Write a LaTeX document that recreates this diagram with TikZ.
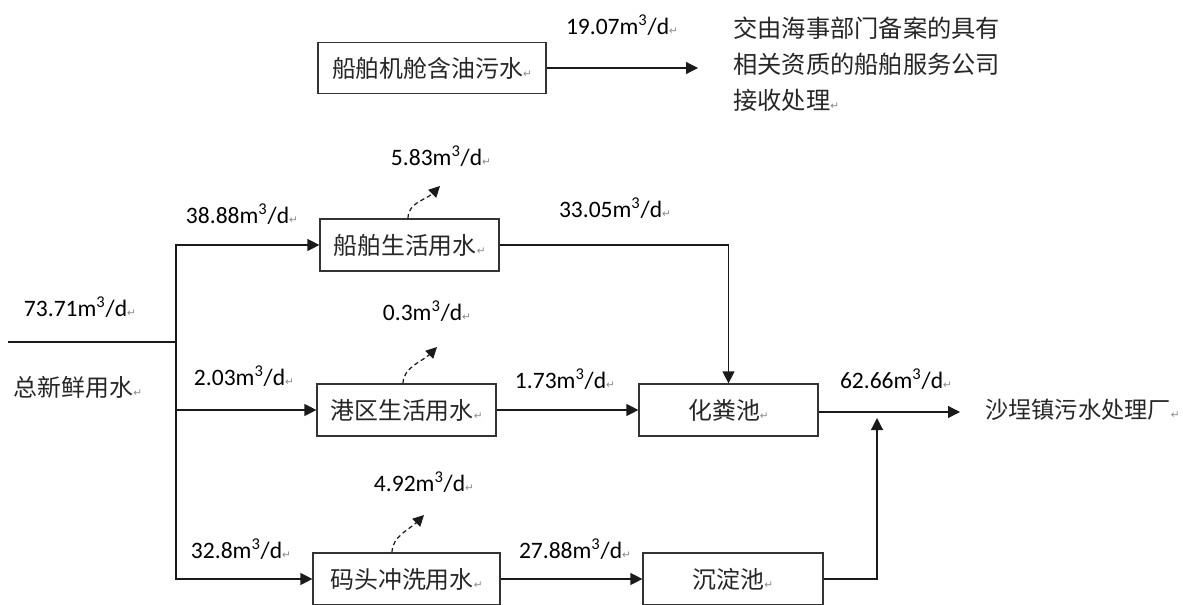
\documentclass[tikz,border=0pt]{standalone}
\usepackage{fontspec}
\setmainfont{Carlito}
\newfontfamily\cjk{Noto Sans CJK SC}
\newfontfamily\retfont{DejaVu Sans}
\usetikzlibrary{arrows.meta}
\definecolor{boxedge}{HTML}{333333}
\definecolor{lineink}{HTML}{1A1A1A}
\definecolor{textink}{HTML}{262626}
\definecolor{retink}{HTML}{8A8A8A}
\newcommand{\ret}{{\retfont\fontsize{6}{6}\selectfont\textcolor{retink}{↵}}}
\newcommand{\cu}{m\textsuperscript{3}/d}
\newcommand{\cjksize}{\fontsize{13.6}{16}\selectfont}
\newcommand{\numsize}{\fontsize{13.4}{16}\selectfont}

\begin{document}
\begin{tikzpicture}[
  x=0.02cm, y=-0.02cm,
  unit/.style={rectangle, draw=boxedge, line width=0.7pt, minimum width=3.58cm,
               minimum height=1.04cm, inner sep=0pt, font=\cjk\cjksize, text=textink},
  pipe/.style={draw=lineink, line width=0.7pt},
  flow/.style={draw=lineink, line width=0.7pt, -{Triangle[length=0.24cm, width=0.24cm]}},
  loss/.style={draw=lineink, line width=0.7pt, dash pattern=on 2.5pt off 1.8pt,
               -{Triangle[length=0.22cm, width=0.22cm]}},
  qty/.style={font=\numsize, text=black, inner sep=0pt},
  note/.style={font=\cjk\cjksize, text=textink, inner sep=0pt},
]
\useasboundingbox (0,0) rectangle (1183,605);
% ---- engine room oily water, handed over
\node[unit, minimum width=4.56cm, minimum height=1.02cm] (oilwater) at (432,68) {船舶机舱含油污水\ret};
\coordinate (oilout) at (698,68);
\draw[flow] (oilwater.east) -- (oilout);
\node[qty] (q_oil) at (622,25) {19.07\cu\ret};
\node[note, anchor=west, align=left, font=\cjk\fontsize{13.8}{20.4}\selectfont] (receiver) at (733,64)
  {交由海事部门备案的具有\\相关资质的船舶服务公司\\接收处理\ret};
% ---- fresh water feed and split
\coordinate (feed) at (8,342);
\coordinate (split) at (176,342);
\draw[pipe] (feed) -- (split);
\node[qty] (q_feed) at (80,307) {73.71\cu\ret};
\node[note] (feedlabel) at (78,387) {总新鲜用水\ret};
\node[unit] (shipdomestic) at (409.5,245) {船舶生活用水\ret};
\node[unit] (portdomestic) at (406.5,410) {港区生活用水\ret};
\node[unit, minimum width=3.74cm] (dockwash) at (406.5,579) {码头冲洗用水\ret};
\draw[flow] (split) |- (shipdomestic.west);
\draw[flow] (split) |- (portdomestic.west);
\draw[flow] (split) |- (dockwash.west);
\node[qty] (q_ship) at (242,214) {38.88\cu\ret};
\node[qty] (q_port) at (244,376) {2.03\cu\ret};
\node[qty] (q_dock) at (241,549) {32.8\cu\ret};
% ---- losses (dashed)
\coordinate (shiploss) at (440,186);
\coordinate (portloss) at (437,347);
\coordinate (dockloss) at (424,515);
\draw[loss] ([xshift=-0.03cm]shipdomestic.north) .. controls +(0,-16) and +(-14,14) .. (shiploss);
\draw[loss] ([xshift=-0.07cm]portdomestic.north) .. controls +(0,-16) and +(-14,14) .. (portloss);
\draw[loss] ([xshift=-0.29cm]dockwash.north) .. controls +(0,-16) and +(-14,14) .. (dockloss);
\node[qty] (q_shiploss) at (441,156) {5.83\cu\ret};
\node[qty] (q_portloss) at (427,311) {0.3\cu\ret};
\node[qty] (q_dockloss) at (424,482) {4.92\cu\ret};
% ---- treatment and discharge
\node[unit] (septic) at (728.5,410) {化粪池\ret};
\node[unit, minimum width=3.6cm] (settling) at (733,579) {沉淀池\ret};
\draw[flow] (shipdomestic.east) -| (septic.north);
\draw[flow] (portdomestic.east) -- (septic.west);
\draw[flow] (dockwash.east) -- (settling.west);
\node[qty] (q_septicin) at (615,208) {33.05\cu\ret};
\node[qty] (q_portout) at (565,379) {1.73\cu\ret};
\node[qty] (q_dockout) at (575,549) {27.88\cu\ret};
\coordinate (plantin) at (960,412);
\coordinate (merge) at (877,418);
\draw[flow] (septic.east |- plantin) -- (plantin);
\draw[flow] (settling.east) -| (merge);
\node[qty] (q_out) at (896,379) {62.66\cu\ret};
\node[note, anchor=west, font=\cjk\fontsize{13.2}{16}\selectfont] (plant) at (985,410) {沙埕镇污水处理厂\ret};
\end{tikzpicture}
\end{document}
